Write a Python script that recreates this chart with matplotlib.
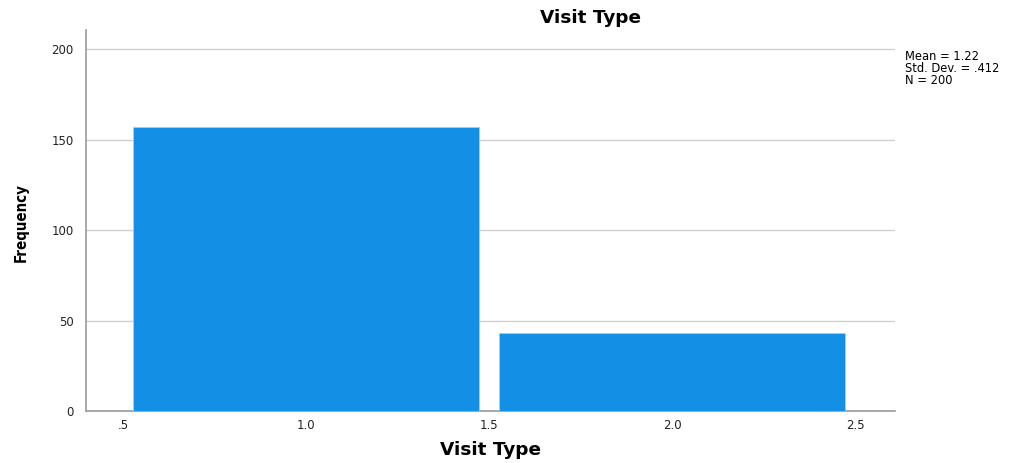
import matplotlib
matplotlib.use("Agg")
import matplotlib.pyplot as plt
from matplotlib import font_manager

plt.rcParams["font.family"] = ["DejaVu Sans"]
fonts = font_manager.fontManager.ttflist
cond_fp = None
for f in fonts:
    if f.name in ("DejaVu Sans", "Liberation Sans Narrow", "Roboto Condensed", "Open Sans Condensed") and \
            ("Condensed" in f.fname or "Narrow" in f.fname) and ("Bold" in f.fname):
        cond_fp = font_manager.FontProperties(fname=f.fname, size=10.8)
        break
if cond_fp is None:
    cond_fp = font_manager.FontProperties(family="Liberation Sans", weight="bold", size=10.2)

categories = [1.0, 2.0]
frequencies = [157, 43]
xticks = [0.5, 1.0, 1.5, 2.0, 2.5]
xtick_labels = [".5", "1.0", "1.5", "2.0", "2.5"]
yticks = [0, 50, 100, 150, 200]
stats_text = "Mean = 1.22\nStd. Dev. = .412\nN = 200"

fig = plt.figure(figsize=(10.16, 4.63), dpi=100)
ax = fig.add_axes([86/1016, 52/463, (895-86)/1016, (411-30)/463])
ax.bar(categories, frequencies, width=0.945, color="#1390E5", edgecolor="#9fd0f5", linewidth=0.6, zorder=3)
ax.set_xlim(0.399, 2.609)
ax.set_ylim(0, 210.5)
ax.set_yticks(yticks)
ax.set_xticks(xticks)
ax.set_xticklabels(xtick_labels)
ax.yaxis.grid(True, color="#cfcfcf", linewidth=1.0, zorder=0)
for s in ["top", "right"]:
    ax.spines[s].set_visible(False)
for s in ["left", "bottom"]:
    ax.spines[s].set_color("#999999")
    ax.spines[s].set_linewidth(1.2)
ax.tick_params(axis="both", length=0, labelsize=8.5, colors="#222222", pad=6)
ax.tick_params(axis="y", pad=9)
fig.text(591/1016, 1 - 18/463, "Visit Type", fontsize=13.3, fontweight="bold", ha="center", va="center")
fig.text(490/1016, 1 - 450/463, "Visit Type", fontsize=13.3, fontweight="bold", ha="center", va="center")
fig.text(21/1016, 1 - 223/463, "Frequency", fontproperties=cond_fp,
         ha="center", va="center", rotation=90)
fig.text(905/1016, 1 - 50/463, stats_text, fontsize=8.3, va="top", ha="left", linespacing=0.88)
fig.savefig("out.png", dpi=100)
